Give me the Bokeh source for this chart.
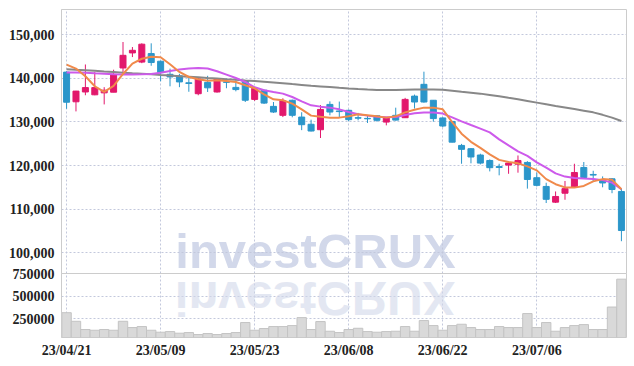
import numpy as np
from bokeh.plotting import figure
from bokeh.layouts import column
from bokeh.models import ColumnDataSource, FixedTicker, NumeralTickFormatter, Range1d, Label, Div
from bokeh.embed import file_html
from bokeh.resources import INLINE

dates = ["23/04/21", "23/04/24", "23/04/25", "23/04/26", "23/04/27", "23/04/28", "23/05/02", "23/05/03",
         "23/05/04", "23/05/08", "23/05/09", "23/05/10", "23/05/11", "23/05/12", "23/05/15", "23/05/16",
         "23/05/17", "23/05/18", "23/05/19", "23/05/22", "23/05/23", "23/05/24", "23/05/25", "23/05/26",
         "23/05/30", "23/05/31", "23/06/01", "23/06/02", "23/06/05", "23/06/07", "23/06/08", "23/06/09",
         "23/06/12", "23/06/13", "23/06/14", "23/06/15", "23/06/16", "23/06/19", "23/06/20", "23/06/21",
         "23/06/22", "23/06/23", "23/06/26", "23/06/27", "23/06/28", "23/06/29", "23/06/30", "23/07/03",
         "23/07/04", "23/07/05", "23/07/06", "23/07/07", "23/07/10", "23/07/11", "23/07/12", "23/07/13",
         "23/07/14", "23/07/17", "23/07/18", "23/07/19"]

open_ = [141400, 134600, 136850, 136200, 136650, 136800, 142350, 145800, 143700, 145650,
         143900, 140900, 140550, 138950, 136450, 139050, 136850, 139150, 137900, 139400,
         135150, 137250, 133550, 131500, 134950, 131100, 129450, 128200, 134000, 132500,
         132650, 130950, 130800, 131400, 129950, 131500, 130950, 135900, 138600, 134950,
         130900, 130100, 124600, 123850, 122400, 121150, 119750, 120100, 120300, 120700,
         117200, 115200, 111600, 113650, 115050, 119550, 117950, 116800, 116950, 114050]
high = [141600, 137100, 143150, 141450, 137950, 141950, 148300, 147150, 148000, 148000,
        144000, 142200, 141000, 140200, 140250, 140550, 140000, 139900, 139500, 139600,
        137900, 137400, 134550, 135400, 135100, 132200, 130500, 133850, 134700, 134650,
        132800, 132050, 131500, 131500, 131000, 133250, 135500, 136250, 141500, 135000,
        131050, 130200, 124950, 124000, 122700, 121400, 120400, 120950, 122300, 121000,
        118350, 116050, 114050, 116450, 120400, 120800, 118800, 117500, 117100, 114650]
low = [133000, 132400, 136100, 136100, 134000, 136800, 141300, 144850, 143450, 142850,
       139300, 138150, 137950, 136900, 136100, 136850, 136700, 137700, 137000, 134550,
       134800, 134100, 132050, 131100, 131050, 128100, 127800, 126300, 131500, 131050,
       130150, 130350, 129750, 130050, 129200, 130300, 130900, 133050, 134400, 130050,
       128750, 125300, 120400, 120500, 120250, 118650, 117750, 118100, 118350, 114700,
       115200, 111400, 111400, 112150, 114850, 117100, 116450, 115000, 113650, 102650]
close = [134500, 137050, 137850, 137850, 137250, 140900, 145250, 146400, 147800, 143600,
         141300, 140300, 139150, 138800, 139850, 137800, 139900, 139050, 137400, 134950,
         137700, 134300, 132250, 134800, 131500, 129350, 127900, 132850, 132250, 132350,
         130500, 130850, 130700, 130350, 130950, 130400, 135150, 134550, 134550, 130750,
         129050, 125350, 123700, 121950, 120550, 119500, 119550, 120550, 121150, 116800,
         115450, 112250, 112900, 114700, 118400, 117250, 117800, 116000, 114500, 105100]
volume = [316000, 220000, 128000, 120000, 128000, 120000, 220000, 150000, 161000, 120000,
          98000, 105000, 87000, 94000, 72000, 83000, 72000, 83000, 94000, 206000,
          120000, 139000, 161000, 161000, 172000, 261000, 128000, 217000, 109000, 94000,
          128000, 142000, 105000, 98000, 105000, 109000, 161000, 109000, 228000, 172000,
          120000, 172000, 187000, 150000, 128000, 128000, 161000, 150000, 150000, 306000,
          150000, 206000, 109000, 150000, 172000, 183000, 128000, 128000, 379000, 690000]
ma5 = [143130, 142210, 140440, 138150, 136890, 138260, 140970, 143360, 144460, 144920,
       144800, 143200, 141430, 140280, 139750, 139410, 139530, 139360, 139140, 138380,
       137690, 136310, 135170, 134940, 134180, 132870, 131430, 131150, 130970, 130970,
       131270, 131730, 131500, 131270, 130970, 131270, 132180, 132760, 133260, 133260,
       132870, 129960, 127300, 125420, 124040, 122550, 121290, 120780, 120490, 119800,
       118880, 116880, 115710, 114980, 114930, 115320, 116360, 116880, 116740, 114570]
ma20 = [141290, 141290, 141250, 141130, 141020, 140900, 140830, 140860, 140900, 140970,
        141250, 141660, 141980, 142210, 142350, 142210, 141590, 140830, 140050, 139140,
        137920, 137230, 136840, 136470, 135690, 134710, 133790, 133490, 133260, 132870,
        132250, 131730, 131430, 131150, 131040, 131110, 131570, 131960, 132140, 132140,
        131890, 131040, 130120, 129270, 128450, 127600, 125990, 124610, 123240, 122210,
        120710, 119500, 118190, 117460, 117110, 117000, 116930, 116650, 116080, 114570]
ma60 = [142050, 141930, 141820, 141700, 141540, 141410, 141250, 141130, 141020, 140900,
        140740, 140600, 140440, 140330, 140210, 140030, 139920, 139750, 139640, 139480,
        139340, 139180, 139020, 138840, 138650, 138470, 138290, 138130, 137970, 137800,
        137640, 137510, 137390, 137320, 137300, 137320, 137370, 137390, 137390, 137390,
        137350, 137120, 136890, 136680, 136470, 136180, 135860, 135510, 135170, 134800,
        134410, 134020, 133630, 133290, 132940, 132570, 132180, 131610, 130970, 130190]

price_ticks = [100000, 110000, 120000, 130000, 140000, 150000]
volume_ticks = [250000, 500000, 750000]
date_tick_step = 10

UP = "#E2186C"
DOWN = "#2B96CA"
GRID = "#c3c8dc"
FONT = "Liberation Sans Narrow"

idx = list(range(len(dates)))
colors = [UP if c >= o else DOWN for o, c in zip(open_, close)]
src = ColumnDataSource(dict(
    x=idx, o=open_, h=high, l=low, c=close,
    top=[max(o, c) for o, c in zip(open_, close)],
    bot=[min(o, c) for o, c in zip(open_, close)],
    color=colors, vol=volume, ma5=ma5, ma20=ma20, ma60=ma60,
))

date_ticks = list(range(0, len(dates), date_tick_step))
xr = Range1d(-0.54, len(dates) - 0.46)

p1 = figure(width=634, height=283, x_range=xr, y_range=Range1d(95250, 155750),
            output_backend="svg", toolbar_location=None, x_axis_location=None,
            min_border_left=61, min_border_right=8, min_border_top=9, min_border_bottom=10)
p1.outline_line_color = "#cccccc"
p1.yaxis.ticker = FixedTicker(ticks=price_ticks)
p1.yaxis.formatter = NumeralTickFormatter(format="0,0")
p1.ygrid.ticker = FixedTicker(ticks=price_ticks)
p1.xgrid.ticker = FixedTicker(ticks=date_ticks)
for g in (p1.xgrid, p1.ygrid):
    g.grid_line_color = GRID
    g.grid_line_dash = "2 2"

p1.add_layout(Label(x=26.47, y=100450, text="investCRUX", text_font="Liberation Sans",
                    text_font_style="bold", text_font_size="49px", text_color="#d2d8ea",
                    text_align="center", text_baseline="alphabetic", level="image"))

p1.segment(x0="x", y0="l", x1="x", y1="h", color="color", line_width=1, source=src)
p1.vbar(x="x", top="top", bottom="bot", width=0.64, fill_color="color", line_color="color",
        line_width=1, source=src)
p1.line("x", "ma60", color="#888888", line_width=2, source=src)
p1.line("x", "ma20", color="#CD5AEB", line_width=2, source=src)
p1.line("x", "ma5", color="#F08A4B", line_width=2, source=src)

p2 = figure(width=634, height=102, x_range=xr, y_range=Range1d(39000, 753300),
            output_backend="svg", toolbar_location=None,
            min_border_left=61, min_border_right=8, min_border_top=9, min_border_bottom=29,
            margin=(-19, 0, 0, 0))
p2.border_fill_alpha = 0
p2.outline_line_color = "#cccccc"
p2.vbar(x="x", top="vol", bottom=0, width=1.0, fill_color="#d9d9d9", line_color="#c4c4c4",
        line_width=1, source=src)
p2.yaxis.ticker = FixedTicker(ticks=volume_ticks)
p2.yaxis.formatter = NumeralTickFormatter(format="0")
p2.ygrid.ticker = FixedTicker(ticks=volume_ticks[:-1])
p2.xaxis.ticker = FixedTicker(ticks=date_ticks)
p2.xaxis.major_label_overrides = {i: dates[i] for i in date_ticks}
p2.xgrid.ticker = FixedTicker(ticks=date_ticks)
for g in (p2.xgrid, p2.ygrid):
    g.grid_line_color = GRID
    g.grid_line_dash = "2 2"

for ax in (p1.yaxis[0], p2.yaxis[0], p2.xaxis[0]):
    ax.major_label_text_font = FONT
    ax.major_label_text_font_style = "bold"
    ax.major_label_text_font_size = "14px"
    ax.major_label_text_color = "#222222"
    ax.major_tick_line_color = None
    ax.minor_tick_line_color = None
    ax.major_tick_out = 0
    ax.major_tick_in = 0
for ax in (p1.yaxis[0], p2.yaxis[0]):
    ax.axis_line_color = "#cccccc"
    ax.major_label_standoff = 7
p2.xaxis.axis_line_color = None
p2.xaxis.major_label_standoff = 5

refl = Div(text=('<div style="position:absolute;left:0px;top:274px;width:630px;height:49px;'
                 'line-height:49px;font-family:\'Liberation Sans\';font-weight:bold;font-size:49px;'
                 'color:#d2d8ea;text-align:center;transform:scaleY(-1);opacity:0.6;'
                 'pointer-events:none;z-index:5;white-space:nowrap;">investCRUX</div>'),
           width=634, height=366, margin=(0, 0, -366, 0))

layout = column(refl, p1, p2, spacing=0)
open("out.html", "w").write(file_html(layout, INLINE))
